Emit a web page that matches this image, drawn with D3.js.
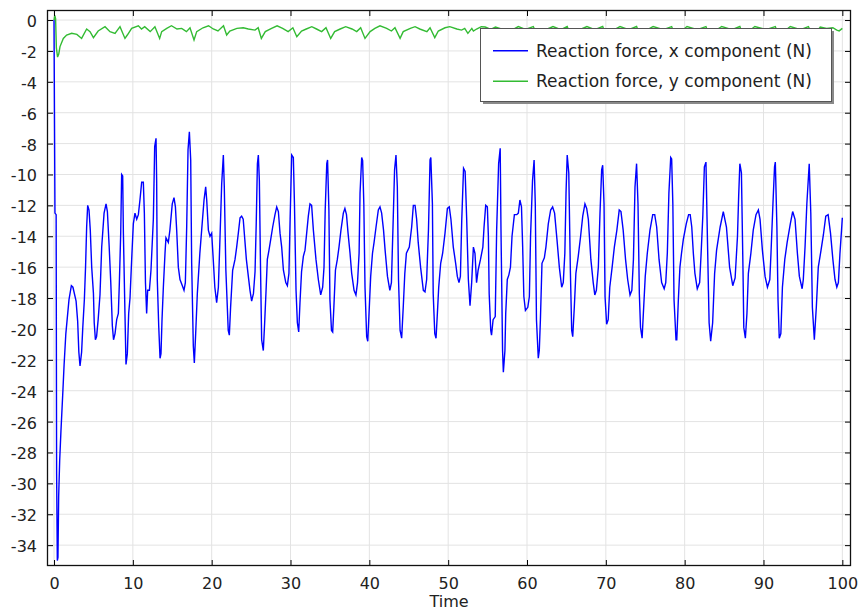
<!DOCTYPE html>
<html>
<head>
<meta charset="utf-8">
<script src="https://cdn.jsdelivr.net/npm/d3@7"></script>
<style>
  html, body { margin: 0; padding: 0; background: #ffffff; }
  svg { display: block; font-family: "DejaVu Sans", sans-serif; }
</style>
</head>
<body>
<svg id="chart" width="861" height="613"></svg>
<script>
// ---------------- data ----------------
const seriesNames = ["Reaction force, x component (N)", "Reaction force, y component (N)"];
const seriesColors = ["#0000ff", "#33bb33"];
const xTicks = [0, 10, 20, 30, 40, 50, 60, 70, 80, 90, 100];
const yTicks = [-34, -32, -30, -28, -26, -24, -22, -20, -18, -16, -14, -12, -10, -8, -6, -4, -2, 0];
const xLabel = "Time";

// [time, force] pairs, x component
const reactionX = [
[0,0],[0.12,-12.5],[0.27,-12.6],[0.33,-29.4],[0.42,-35.0],[0.5,-34.8],[0.59,-30.85],[0.72,-28.5],[0.88,-26.6],[1.1,-24.3],[1.28,-22.3],[1.5,-20.3],[1.7,-19.2],[1.9,-18.1],[2.2,-17.2],[2.4,-17.3],[2.8,-18.2],[3.0,-19.5],[3.15,-21.5],[3.3,-22.4],[3.5,-21.5],[3.65,-19.9],[3.85,-18.1],[4.0,-16],[4.14,-13.4],[4.27,-12.0],[4.44,-12.3],[4.6,-13.6],[4.78,-16.0],[5.0,-17.7],[5.1,-19.6],[5.25,-20.7],[5.4,-20.5],[5.6,-19.4],[5.83,-17.8],[6.05,-14.7],[6.35,-12.5],[6.6,-11.9],[6.77,-12.4],[7.0,-14.7],[7.2,-17.0],[7.4,-19.8],[7.55,-20.7],[7.74,-20.3],[7.95,-19.4],[8.16,-19.0],[8.29,-17.0],[8.46,-13.8],[8.58,-10.0],[8.71,-10.1],[8.8,-13.8],[9.0,-19.0],[9.13,-22.3],[9.3,-21.6],[9.47,-19.0],[9.64,-18.0],[9.85,-15.5],[10.06,-13.2],[10.27,-12.5],[10.49,-12.9],[10.7,-12.6],[10.9,-11.65],[11.12,-10.5],[11.33,-10.5],[11.46,-12.5],[11.6,-17.0],[11.75,-19.0],[11.88,-17.5],[12.1,-17.5],[12.3,-16.2],[12.6,-12.9],[12.77,-8.2],[12.94,-7.66],[13.02,-10.4],[13.1,-16.8],[13.28,-19.8],[13.45,-21.9],[13.57,-21.6],[13.7,-19.4],[13.87,-17.3],[14.08,-15.1],[14.2,-14.1],[14.5,-14.4],[14.7,-13.6],[15.0,-11.9],[15.22,-11.5],[15.4,-12.1],[15.56,-13.6],[15.77,-16.0],[15.98,-16.8],[16.28,-17.2],[16.49,-17.5],[16.66,-17.0],[16.83,-13.4],[17.0,-8.4],[17.17,-7.23],[17.34,-9.06],[17.46,-15.7],[17.67,-21.1],[17.8,-22.2],[17.97,-20.3],[18.18,-17.7],[18.5,-15.1],[18.73,-13.6],[19.03,-11.65],[19.24,-10.8],[19.37,-11.65],[19.58,-13.6],[19.79,-14.0],[20.0,-13.8],[20.2,-15.5],[20.4,-17.3],[20.63,-18.3],[20.85,-17.3],[21.06,-14.0],[21.27,-10.6],[21.48,-8.74],[21.6,-10.8],[21.8,-16.2],[22.1,-20.1],[22.24,-20.4],[22.4,-18.6],[22.66,-16.2],[22.96,-15.5],[23.17,-14.7],[23.38,-13.8],[23.6,-12.8],[23.8,-12.7],[24.0,-12.9],[24.2,-14.2],[24.4,-15.5],[24.65,-16.6],[24.86,-17.5],[25.07,-18.2],[25.3,-17.7],[25.5,-16.3],[25.65,-13.2],[25.8,-9.3],[25.92,-8.74],[26.05,-10.4],[26.2,-16.2],[26.34,-20.7],[26.55,-21.4],[26.72,-19.6],[26.9,-17.5],[27.06,-15.5],[27.27,-14.9],[27.49,-14.2],[27.74,-13.4],[28.03,-12.6],[28.25,-12.1],[28.46,-12.4],[28.67,-13.8],[28.88,-14.7],[29.1,-16.2],[29.4,-17.0],[29.6,-17.2],[29.8,-16.4],[29.95,-12.9],[30.15,-8.74],[30.36,-8.9],[30.5,-11.9],[30.7,-17.5],[30.87,-19.6],[31.04,-20.2],[31.2,-18.3],[31.4,-16.3],[31.63,-15.3],[31.84,-14.9],[32.05,-13.8],[32.26,-12.7],[32.47,-11.9],[32.68,-12.0],[32.9,-13.6],[33.23,-15.5],[33.53,-16.8],[33.83,-17.8],[34.08,-17.3],[34.25,-16.0],[34.4,-12.3],[34.6,-9.3],[34.7,-9.06],[34.87,-12.3],[35.0,-18.1],[35.2,-20.1],[35.35,-20.2],[35.5,-18.6],[35.7,-16.2],[35.94,-15.5],[36.15,-14.7],[36.4,-13.6],[36.7,-12.5],[36.9,-12.2],[37.1,-12.6],[37.3,-13.8],[37.55,-15.1],[37.76,-16.4],[38.06,-17.5],[38.3,-17.8],[38.5,-17.0],[38.7,-15.1],[38.82,-11.2],[39.03,-8.9],[39.15,-9.1],[39.3,-11.9],[39.45,-17.3],[39.66,-20.5],[39.8,-20.8],[39.96,-19.0],[40.17,-16.6],[40.4,-15.1],[40.6,-14.4],[40.85,-13.4],[41.14,-12.3],[41.35,-12.1],[41.56,-12.5],[41.8,-13.6],[42.0,-14.9],[42.3,-16.6],[42.6,-17.5],[42.8,-17.0],[43.0,-13.4],[43.2,-9.7],[43.38,-8.74],[43.55,-10.8],[43.7,-16.8],[43.9,-20.1],[44.1,-20.6],[44.3,-18.6],[44.5,-16.4],[44.7,-15.1],[45.07,-14.7],[45.37,-13.4],[45.58,-12.0],[45.8,-12.0],[46.0,-12.9],[46.2,-14.4],[46.5,-16.0],[46.85,-17.5],[47.06,-17.6],[47.27,-16.8],[47.5,-13.6],[47.7,-9.06],[47.8,-8.9],[48.0,-11.9],[48.1,-17.7],[48.3,-20.3],[48.46,-20.6],[48.63,-19.0],[48.8,-17.3],[49.05,-15.75],[49.3,-15.1],[49.6,-13.8],[49.9,-12.2],[50.14,-12.1],[50.35,-12.9],[50.65,-14.7],[50.95,-15.75],[51.16,-16.6],[51.37,-17.0],[51.55,-16.6],[51.72,-13.0],[51.95,-9.6],[52.15,-9.8],[52.35,-12.9],[52.56,-16.8],[52.77,-18.5],[52.98,-17.0],[53.2,-14.7],[53.4,-15.1],[53.6,-17.0],[53.8,-16.2],[54.1,-15.5],[54.4,-14.7],[54.55,-13.4],[54.76,-12.0],[54.97,-12.1],[55.1,-14.0],[55.2,-17.7],[55.4,-20.1],[55.5,-20.4],[55.7,-19.4],[55.97,-19.2],[56.15,-13.6],[56.4,-9.3],[56.6,-8.3],[56.7,-13.6],[56.9,-21.4],[57.0,-22.8],[57.2,-21.4],[57.3,-19.0],[57.5,-16.8],[57.7,-16.5],[57.9,-16.0],[58.1,-14.0],[58.4,-12.6],[58.7,-12.6],[58.9,-12.5],[59.1,-11.65],[59.3,-12.1],[59.45,-14.7],[59.6,-17.9],[59.8,-18.8],[60.1,-18.6],[60.3,-17.9],[60.45,-14.0],[60.7,-10.4],[60.9,-9.06],[61.05,-11.9],[61.2,-19.4],[61.43,-21.9],[61.56,-21.4],[61.7,-19.4],[61.9,-15.75],[62.2,-15.4],[62.4,-14.7],[62.7,-13.2],[63.0,-12.3],[63.25,-12.1],[63.5,-12.5],[63.8,-14.2],[64.1,-16.0],[64.4,-17.3],[64.6,-17.0],[64.8,-15.1],[64.95,-11.2],[65.1,-8.74],[65.3,-9.9],[65.5,-16.2],[65.67,-20.1],[65.8,-20.5],[66.0,-18.6],[66.2,-16.4],[66.5,-15.3],[66.8,-14.0],[67.07,-12.7],[67.35,-11.9],[67.57,-12.2],[67.78,-12.9],[68.1,-15.5],[68.4,-17.0],[68.6,-17.8],[68.8,-17.5],[69.05,-16.0],[69.26,-12.5],[69.47,-9.7],[69.6,-9.4],[69.77,-11.9],[69.9,-17.9],[70.1,-19.7],[70.3,-19.4],[70.5,-17.3],[70.8,-16.0],[71.08,-14.7],[71.4,-13.6],[71.7,-12.3],[71.92,-12.4],[72.2,-13.6],[72.5,-15.5],[72.77,-16.8],[73.07,-17.8],[73.3,-17.5],[73.5,-15.5],[73.7,-10.8],[73.9,-9.3],[74.08,-11.9],[74.25,-17.7],[74.4,-19.9],[74.6,-20.6],[74.76,-19.0],[75.0,-16.6],[75.26,-15.1],[75.6,-13.6],[75.95,-12.6],[76.2,-12.6],[76.45,-13.4],[76.75,-15.5],[77.08,-17.0],[77.4,-17.4],[77.6,-17.0],[77.8,-15.1],[78.0,-11.2],[78.23,-8.9],[78.35,-9.0],[78.5,-11.9],[78.65,-18.1],[78.9,-20.7],[79.0,-20.7],[79.2,-18.1],[79.4,-16.0],[79.6,-15.1],[79.83,-14.2],[80.2,-13.2],[80.5,-12.6],[80.7,-12.6],[80.9,-13.4],[81.1,-15.1],[81.3,-16.4],[81.6,-17.4],[81.9,-17.0],[82.07,-15.3],[82.3,-12.7],[82.5,-9.5],[82.7,-9.2],[82.9,-14.5],[83.1,-19.6],[83.3,-20.8],[83.55,-19.6],[83.8,-16.4],[84.05,-14.9],[84.5,-13.4],[84.9,-12.4],[85.3,-13.4],[85.7,-16.0],[86.1,-17.2],[86.4,-16.7],[86.7,-14.0],[86.85,-11.4],[87.0,-9.3],[87.2,-9.9],[87.4,-16.2],[87.5,-19.9],[87.7,-20.6],[87.9,-19.0],[88.08,-16.4],[88.4,-15.1],[88.7,-13.6],[89.05,-12.6],[89.35,-12.3],[89.56,-12.9],[89.86,-14.9],[90.2,-16.6],[90.5,-17.3],[90.8,-16.8],[90.95,-15.1],[91.2,-11.9],[91.4,-9.5],[91.5,-9.2],[91.7,-13.4],[91.84,-18.1],[92.0,-20.6],[92.2,-20.3],[92.4,-17.3],[92.7,-15.5],[93.0,-14.4],[93.4,-13.2],[93.7,-12.4],[94.0,-12.9],[94.3,-15.1],[94.55,-16.6],[94.9,-17.4],[95.05,-16.8],[95.27,-14.7],[95.5,-11.9],[95.8,-9.3],[96.0,-12.5],[96.2,-18.6],[96.45,-20.7],[96.7,-18.6],[96.95,-16.0],[97.3,-14.9],[97.6,-13.9],[97.9,-12.7],[98.2,-12.6],[98.5,-13.8],[98.8,-15.5],[99.07,-16.8],[99.3,-17.3],[99.5,-17.0],[99.7,-15.1],[99.9,-13.6],[100.0,-12.8]
];

// [time, force] pairs, y component
const reactionY = [
[0,0],[0.1,0.3],[0.2,0.1],[0.3,-1.8],[0.45,-2.4],[0.6,-2.2],[0.76,-1.72],[1.18,-1.19],[1.6,-0.97],[2.24,-0.86],[2.9,-0.93],[3.5,-1.19],[4.14,-0.58],[4.57,-0.75],[5.0,-1.14],[5.6,-0.71],[6.47,-0.43],[7.1,-0.75],[7.74,-0.86],[8.37,-0.43],[9.0,-1.19],[9.3,-0.97],[9.85,-0.54],[10.7,-0.37],[11.1,-0.58],[11.5,-0.43],[12.2,-0.75],[12.8,-0.43],[13.4,-1.19],[13.66,-0.75],[14.3,-0.54],[14.9,-0.37],[15.6,-0.58],[16.2,-0.54],[16.8,-0.75],[17.25,-0.5],[17.76,-1.29],[18.1,-0.75],[18.9,-0.5],[19.6,-0.37],[20.2,-0.58],[20.8,-0.71],[21.5,-0.37],[21.9,-0.97],[22.3,-0.71],[23.2,-0.54],[24.0,-0.5],[24.65,-0.58],[25.5,-0.65],[25.9,-0.5],[26.3,-1.19],[26.8,-0.75],[27.6,-0.54],[28.3,-0.37],[29.0,-0.54],[29.7,-0.75],[30.3,-0.5],[30.8,-1.08],[31.4,-0.71],[32.0,-0.58],[32.7,-0.43],[33.3,-0.58],[33.95,-0.75],[34.5,-0.5],[35.1,-1.19],[35.6,-0.75],[36.3,-0.58],[37.0,-0.43],[37.8,-0.58],[38.4,-0.75],[38.9,-0.5],[39.45,-1.19],[40.1,-0.75],[40.7,-0.54],[41.35,-0.37],[42.2,-0.54],[42.8,-0.71],[43.25,-0.5],[43.9,-1.19],[44.3,-0.75],[45.2,-0.54],[45.8,-0.43],[46.4,-0.58],[47.3,-0.75],[47.7,-0.5],[48.3,-1.14],[48.75,-0.71],[49.6,-0.5],[50.2,-0.43],[51.1,-0.58],[51.7,-0.65],[52.1,-0.54],[52.5,-0.86],[53.0,-0.54],[53.2,-0.71],[53.6,-0.58],[54.2,-0.43],[54.7,-0.45],[55.4,-0.6],[56.0,-0.45],[56.6,-0.55],[57.1,-1.1],[57.6,-0.72],[58.3,-0.58],[58.9,-0.42],[59.8,-0.6],[60.8,-0.42],[61.4,-1.1],[61.9,-0.72],[62.6,-0.58],[63.3,-0.42],[64.3,-0.62],[65.1,-0.42],[65.6,-1.1],[66.1,-0.72],[66.9,-0.58],[67.6,-0.42],[68.6,-0.62],[69.6,-0.42],[70.1,-1.1],[70.6,-0.72],[71.2,-0.58],[71.8,-0.42],[72.9,-0.62],[73.9,-0.42],[74.4,-1.1],[74.9,-0.72],[75.4,-0.58],[76.0,-0.42],[77.3,-0.62],[78.35,-0.42],[78.85,-1.1],[79.4,-0.72],[79.9,-0.58],[80.3,-0.42],[81.6,-0.62],[82.7,-0.42],[83.2,-1.1],[83.7,-0.72],[84.2,-0.58],[84.7,-0.42],[86.0,-0.62],[87.0,-0.42],[87.5,-1.1],[88.0,-0.72],[88.5,-0.58],[88.9,-0.42],[90.3,-0.62],[91.5,-0.42],[92.0,-1.1],[92.5,-0.72],[93.0,-0.58],[93.4,-0.42],[94.7,-0.62],[95.7,-0.42],[96.3,-1.1],[96.8,-0.72],[97.2,-0.45],[98.0,-0.55],[98.8,-0.5],[99.3,-0.65],[99.6,-0.7],[100,-0.54]
];

// ---------------- layout ----------------
const plot = { left: 47, top: 10, right: 851, bottom: 566 };
const svg = d3.select("#chart");

const x = d3.scaleLinear().domain([-0.89, 101.1]).range([plot.left, plot.right]);
const y = d3.scaleLinear().domain([-35.35, 0.65]).range([plot.bottom, plot.top]);

// grid
const grid = svg.append("g").attr("stroke", "#e3e3e3").attr("stroke-width", 1);
grid.selectAll("line.gx").data(xTicks).join("line")
  .attr("x1", d => x(d)).attr("x2", d => x(d))
  .attr("y1", plot.top).attr("y2", plot.bottom);
grid.selectAll("line.gy").data(yTicks).join("line")
  .attr("x1", plot.left).attr("x2", plot.right)
  .attr("y1", d => y(d)).attr("y2", d => y(d));

// clip
svg.append("clipPath").attr("id", "clip").append("rect")
  .attr("x", plot.left).attr("y", plot.top)
  .attr("width", plot.right - plot.left).attr("height", plot.bottom - plot.top);

const line = d3.line().x(d => x(d[0])).y(d => y(d[1]));
const lines = svg.append("g").attr("clip-path", "url(#clip)");
[reactionX, reactionY].forEach((s, i) => {
  lines.append("path").datum(s)
    .attr("fill", "none").attr("stroke", seriesColors[i])
    .attr("stroke-width", 1.4).attr("stroke-linejoin", "miter")
    .attr("d", line);
});

// axes (ticks pointing inward on all four sides), plain hyphen minus in labels
const fmt = d => String(d);
const fontSize = 16;
const bottomAxis = svg.append("g").attr("transform", `translate(0,${plot.bottom})`)
  .call(d3.axisBottom(x).tickValues(xTicks).tickFormat(fmt).tickSizeInner(-6).tickSizeOuter(0).tickPadding(10));
const topAxis = svg.append("g").attr("transform", `translate(0,${plot.top})`)
  .call(d3.axisTop(x).tickValues(xTicks).tickSizeInner(-6).tickSizeOuter(0).tickFormat(""));
const leftAxis = svg.append("g").attr("transform", `translate(${plot.left},0)`)
  .call(d3.axisLeft(y).tickValues(yTicks).tickFormat(fmt).tickSizeInner(-6).tickSizeOuter(0).tickPadding(10));
const rightAxis = svg.append("g").attr("transform", `translate(${plot.right},0)`)
  .call(d3.axisRight(y).tickValues(yTicks).tickSizeInner(-6).tickSizeOuter(0).tickFormat(""));

[bottomAxis, topAxis, leftAxis, rightAxis].forEach(a => {
  a.select(".domain").remove();
  a.selectAll(".tick line").attr("stroke", "#000");
  a.selectAll("text").attr("fill", "#222").style("font-size", fontSize + "px")
    .style("font-family", "'DejaVu Sans', sans-serif");
});
leftAxis.selectAll("text").attr("dy", "0.4em");
bottomAxis.selectAll("text").attr("dy", "0.8em");

// frame
svg.append("rect").attr("x", plot.left + 0.5).attr("y", plot.top + 0.5)
  .attr("width", plot.right - plot.left - 1).attr("height", plot.bottom - plot.top - 1)
  .attr("fill", "none").attr("stroke", "#111").attr("stroke-width", 1.3);

// x label
svg.append("text").attr("x", (plot.left + plot.right) / 2).attr("y", 607)
  .attr("text-anchor", "middle").attr("fill", "#222")
  .style("font-size", fontSize + "px").text(xLabel);

// legend
const lg = { x: 480, y: 28, w: 351, h: 73 };
const legend = svg.append("g");
legend.append("rect").attr("x", lg.x + 3).attr("y", lg.y + 3)
  .attr("width", lg.w).attr("height", lg.h).attr("fill", "#8a8a8a");
legend.append("rect").attr("x", lg.x + 0.5).attr("y", lg.y + 0.5)
  .attr("width", lg.w).attr("height", lg.h)
  .attr("fill", "#ffffff").attr("stroke", "#555").attr("stroke-width", 1);
seriesNames.forEach((name, i) => {
  const cy = 50.7 + i * 30.5;
  legend.append("line").attr("x1", 493).attr("x2", 528).attr("y1", cy).attr("y2", cy)
    .attr("stroke", seriesColors[i]).attr("stroke-width", 1.5);
  legend.append("text").attr("x", 536).attr("y", cy + 6)
    .attr("fill", "#222").style("font-size", "17px").text(name);
});
</script>
</body>
</html>
